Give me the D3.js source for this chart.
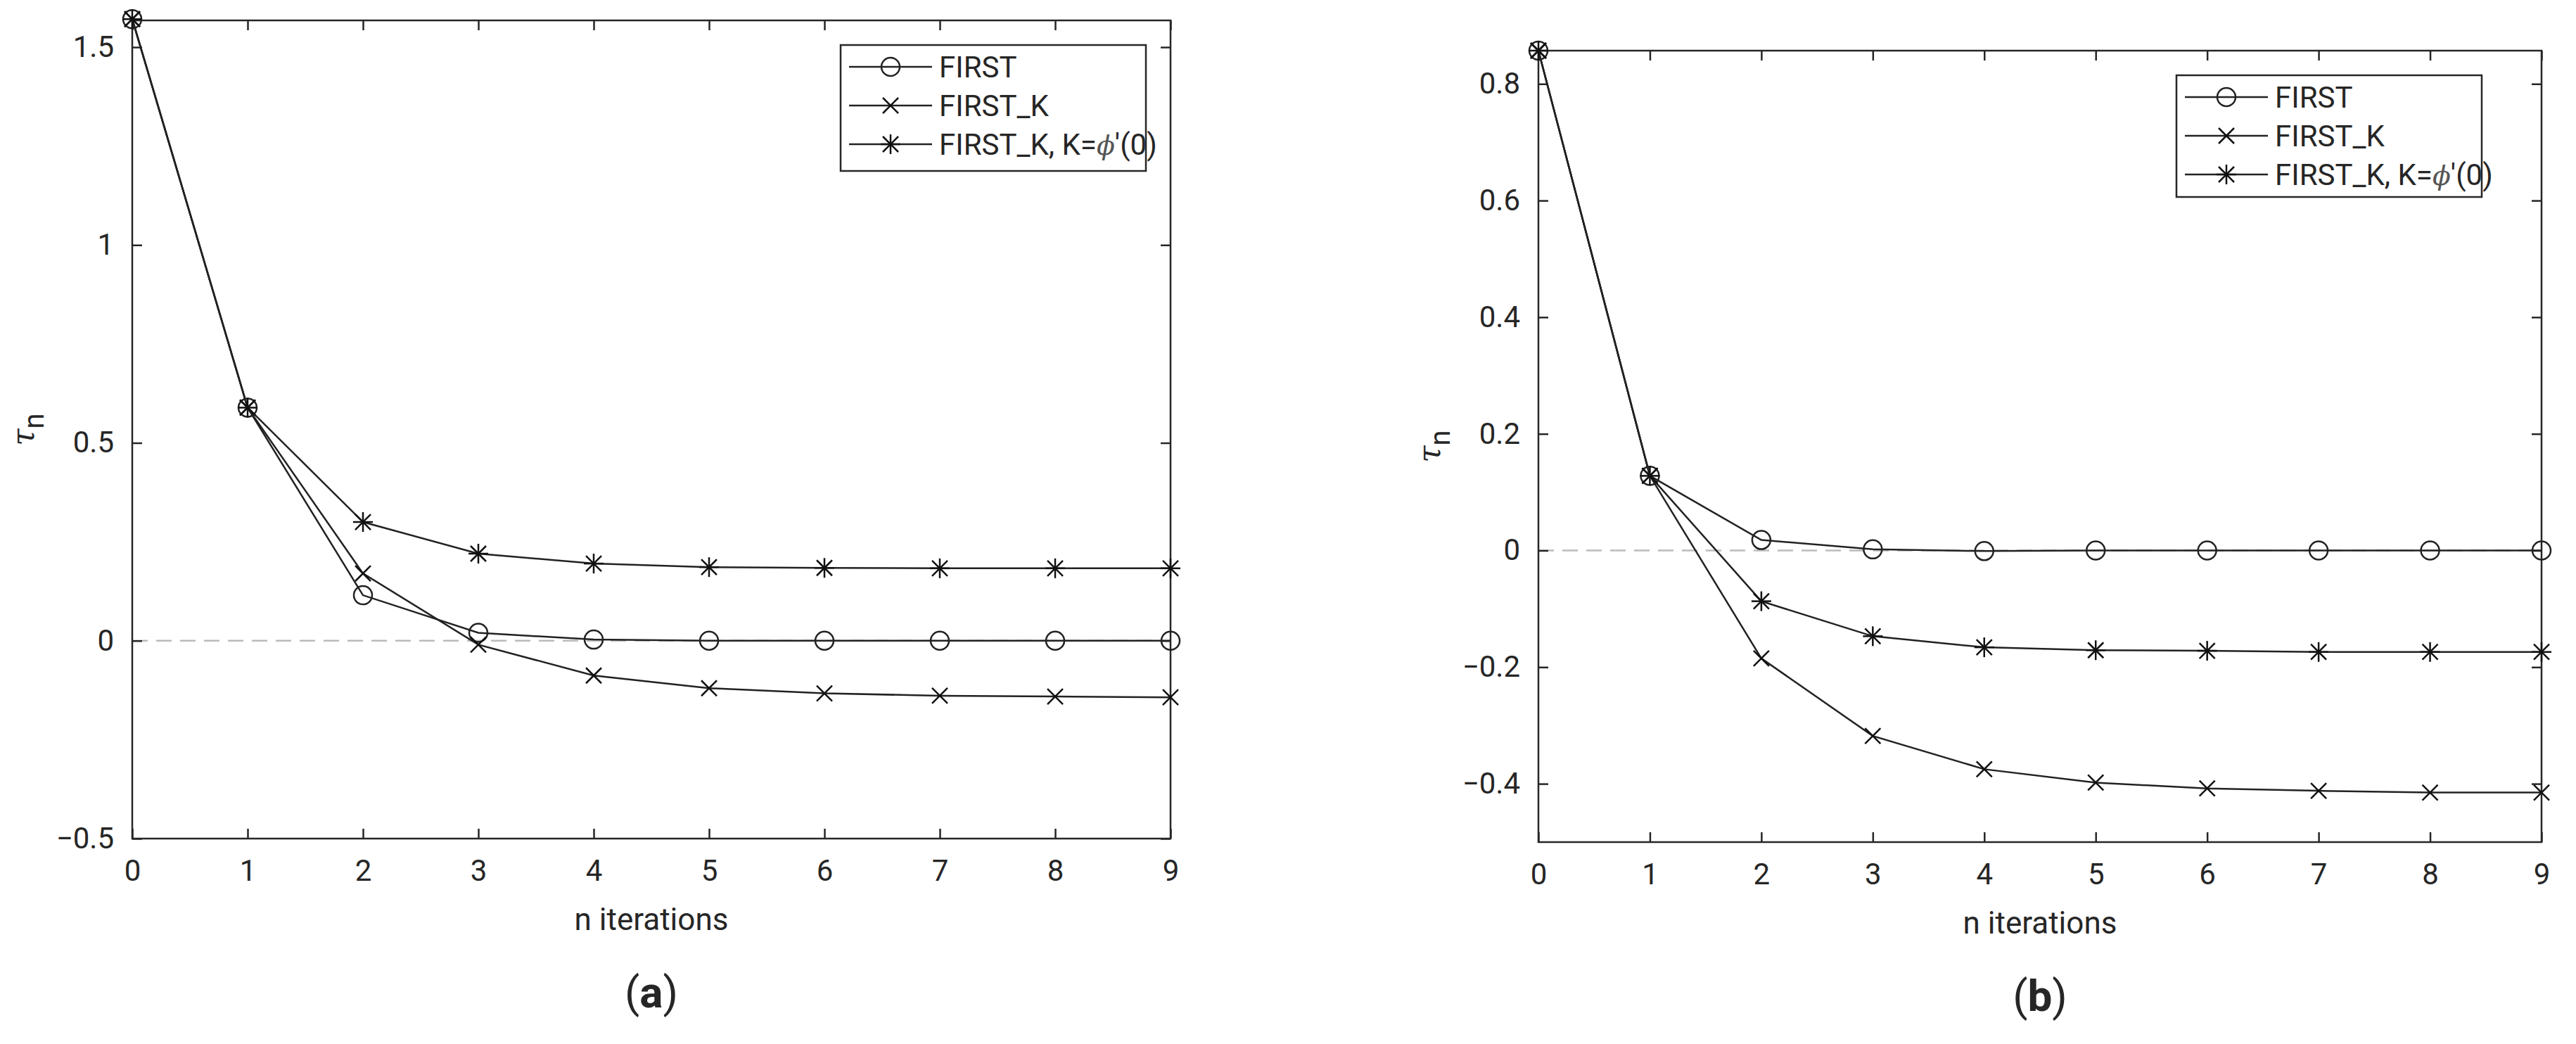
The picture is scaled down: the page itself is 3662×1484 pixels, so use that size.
<!DOCTYPE html>
<head>
<meta charset="utf-8">
<script src="https://d3js.org/d3.v7.min.js"></script>
<style>
  body { margin: 0; background: white; }
  text { font-family: Roboto, "Liberation Sans", sans-serif; fill: #262626; }
</style>
</head>
<body>
<svg width="3662" height="1484"></svg>
<script>
var iterations = [0, 1, 2, 3, 4, 5, 6, 7, 8, 9];
var seriesNames = ["FIRST", "FIRST_K", "FIRST_K, K="];
var markers = ["circle", "x", "star"];

// panel (a)
var aFirst  = [1.5708, 0.589, 0.115, 0.020, 0.003, 0.000, 0.000, 0.000, 0.000, 0.000];
var aFirstK = [1.5708, 0.589, 0.170, -0.010, -0.088, -0.120, -0.133, -0.139, -0.141, -0.143];
var aStar   = [1.5708, 0.589, 0.300, 0.220, 0.195, 0.186, 0.184, 0.183, 0.183, 0.183];
var aTicks  = [-0.5, 0, 0.5, 1, 1.5];
// panel (b)
var bFirst  = [0.857, 0.128, 0.018, 0.002, -0.001, 0.000, 0.000, 0.000, 0.000, 0.000];
var bFirstK = [0.857, 0.128, -0.185, -0.318, -0.375, -0.398, -0.408, -0.412, -0.415, -0.415];
var bStar   = [0.857, 0.128, -0.087, -0.147, -0.166, -0.171, -0.172, -0.174, -0.174, -0.174];
var bTicks  = [-0.4, -0.2, 0, 0.2, 0.4, 0.6, 0.8];

var svg = d3.select("svg");

function panel(box, ydom, yticks, series, legendBox, tag) {
  var x = d3.scaleLinear().domain([0, 9]).range([box.left, box.right]);
  var y = d3.scaleLinear().domain(ydom).range([box.bottom, box.top]);
  var g = svg.append("g");
  var tl = 14;

  // zero line
  g.append("line").attr("x1", x(0)).attr("x2", x(9)).attr("y1", y(0)).attr("y2", y(0))
    .attr("stroke", "#bbb").attr("stroke-width", 2.5).attr("stroke-dasharray", "22,12");

  // axes with inward ticks, MATLAB box
  var fmt = function(d) { return d3.format("")(d); };
  g.append("g").attr("transform", "translate(0," + box.bottom + ")")
    .call(d3.axisBottom(x).tickValues(iterations).tickSize(-tl).tickPadding(30).tickFormat(fmt));
  g.append("g").attr("transform", "translate(0," + box.top + ")")
    .call(d3.axisTop(x).tickValues(iterations).tickSize(-tl).tickFormat(""));
  g.append("g").attr("transform", "translate(" + box.left + ",0)")
    .call(d3.axisLeft(y).tickValues(yticks).tickSize(-tl).tickPadding(26).tickFormat(fmt));
  g.append("g").attr("transform", "translate(" + box.right + ",0)")
    .call(d3.axisRight(y).tickValues(yticks).tickSize(-tl).tickFormat(""));
  g.selectAll(".domain, .tick line").attr("stroke", "#262626").attr("stroke-width", 2.5);
  g.selectAll(".tick text").attr("font-size", 42).attr("font-family", "Roboto, sans-serif").attr("fill", "#262626");
  g.selectAll(".domain").attr("d", null);
  g.append("rect").attr("x", box.left).attr("y", box.top)
    .attr("width", box.right - box.left).attr("height", box.bottom - box.top)
    .attr("fill", "none").attr("stroke", "#262626").attr("stroke-width", 2.5);

  // labels
  g.append("text").attr("x", (box.left + box.right) / 2).attr("y", box.bottom + 130)
    .attr("text-anchor", "middle").attr("font-size", 44).text("n iterations");
  var yl = g.append("text").attr("transform", "translate(" + (box.left - 140) + "," + ((box.top + box.bottom) / 2) + ") rotate(-90)")
    .attr("text-anchor", "middle").attr("font-size", 44);
  yl.append("tspan").attr("font-family", "DejaVu Serif, serif").attr("font-style", "italic").text("τ");
  yl.append("tspan").attr("dy", 14).attr("font-size", 40).text("n");
  var cap = g.append("text").attr("x", (box.left + box.right) / 2).attr("y", box.bottom + 240)
    .attr("text-anchor", "middle").attr("font-size", 62).attr("font-family", "Liberation Serif, serif").attr("fill", "#000");
  cap.append("tspan").text("(");
  cap.append("tspan").attr("font-weight", "bold").text(tag);
  cap.append("tspan").text(")");

  var line = d3.line().x(function(d, i) { return x(iterations[i]); }).y(function(d) { return y(d); });
  series.forEach(function(vals, k) {
    g.append("path").attr("d", line(vals)).attr("fill", "none").attr("stroke", "#222").attr("stroke-width", 2.5);
    vals.forEach(function(v, i) { marker(g, markers[k], x(iterations[i]), y(v)); });
  });

  // legend
  var lg = g.append("g").attr("transform", "translate(" + legendBox.x + "," + legendBox.y + ")");
  lg.append("rect").attr("width", legendBox.w).attr("height", legendBox.h)
    .attr("fill", "white").attr("stroke", "#262626").attr("stroke-width", 2.5);
  seriesNames.forEach(function(name, k) {
    var yy = 31 + k * 55;
    lg.append("line").attr("x1", 12).attr("x2", 130).attr("y1", yy).attr("y2", yy)
      .attr("stroke", "#222").attr("stroke-width", 2.5);
    marker(lg, markers[k], 71, yy);
    var t = lg.append("text").attr("x", 140).attr("y", yy + 15).attr("font-size", 42).text(name);
    if (k == 2) {
      t.append("tspan").attr("font-family", "DejaVu Serif, serif").attr("font-style", "italic").attr("fill", "#555").attr("font-size", 38).text("ϕ");
      t.append("tspan").text("'(0)");
    }
  });
}

function marker(g, type, cx, cy) {
  var s = 11;
  if (type == "circle") {
    g.append("circle").attr("cx", cx).attr("cy", cy).attr("r", 13)
      .attr("fill", "none").attr("stroke", "#222").attr("stroke-width", 2.5);
    return;
  }
  var segs = [[-s, -s, s, s], [-s, s, s, -s]];
  if (type == "star") segs = segs.concat([[0, -14, 0, 14], [-14, 0, 14, 0]]);
  segs.forEach(function(p) {
    g.append("line").attr("x1", cx + p[0]).attr("y1", cy + p[1]).attr("x2", cx + p[2]).attr("y2", cy + p[3])
      .attr("stroke", "#111").attr("stroke-width", 2.5);
  });
}

panel({left: 188, right: 1664, top: 29, bottom: 1192}, [-0.5, 1.5676], aTicks,
  [aFirst, aFirstK, aStar], {x: 1195, y: 64, w: 434, h: 179}, "a");
panel({left: 2187, right: 3613, top: 72, bottom: 1197}, [-0.5, 0.857], bTicks,
  [bFirst, bFirstK, bStar], {x: 3094, y: 107, w: 434, h: 173}, "b");
</script>
</body>
</html>
